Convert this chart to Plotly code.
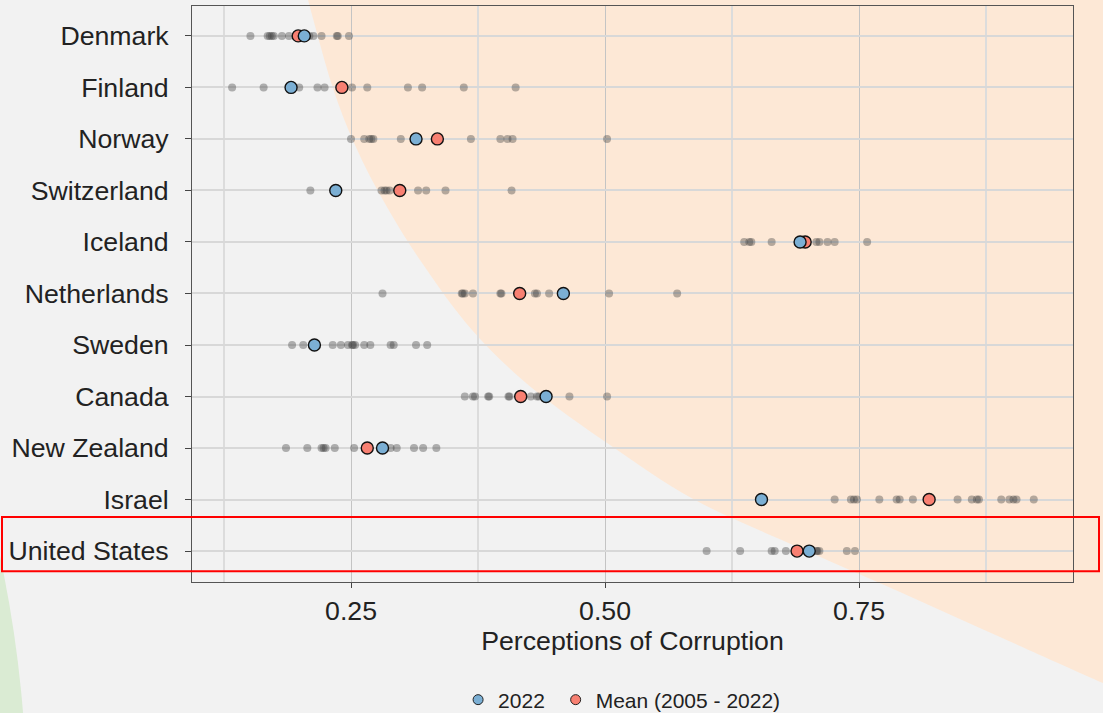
import plotly.graph_objects as go

countries = ["Denmark", "Finland", "Norway", "Switzerland", "Iceland", "Netherlands",
             "Sweden", "Canada", "New Zealand", "Israel", "United States"]

# yearly values 2005-2022 (grey dots)
denmark = [0.151, 0.168, 0.170, 0.172, 0.174, 0.182, 0.189, 0.196, 0.204, 0.209, 0.213, 0.221, 0.236, 0.237, 0.248]
finland = [0.133, 0.164, 0.191, 0.199, 0.217, 0.224, 0.251, 0.266, 0.306, 0.320, 0.361, 0.412]
norway = [0.250, 0.263, 0.268, 0.270, 0.272, 0.299, 0.314, 0.368, 0.397, 0.404, 0.409, 0.502]
switzerland = [0.210, 0.235, 0.280, 0.283, 0.285, 0.288, 0.316, 0.324, 0.343, 0.408]
iceland = [0.637, 0.642, 0.644, 0.664, 0.692, 0.697, 0.708, 0.711, 0.719, 0.726, 0.758]
netherlands = [0.281, 0.359, 0.360, 0.362, 0.370, 0.397, 0.398, 0.431, 0.433, 0.445, 0.459, 0.504, 0.571]
sweden = [0.192, 0.203, 0.214, 0.232, 0.240, 0.247, 0.251, 0.252, 0.254, 0.263, 0.269, 0.289, 0.292, 0.314, 0.325]
canada = [0.362, 0.370, 0.372, 0.385, 0.386, 0.405, 0.406, 0.427, 0.433, 0.435, 0.442, 0.465, 0.502]
new_zealand = [0.186, 0.207, 0.221, 0.223, 0.225, 0.234, 0.253, 0.281, 0.289, 0.295, 0.312, 0.321, 0.334]
israel = [0.654, 0.726, 0.742, 0.745, 0.748, 0.770, 0.787, 0.790, 0.803, 0.847, 0.861, 0.866, 0.868, 0.890, 0.898, 0.902, 0.905, 0.922]
united_states = [0.600, 0.633, 0.664, 0.667, 0.678, 0.701, 0.708, 0.709, 0.711, 0.738, 0.746]

yearly = [denmark, finland, norway, switzerland, iceland, netherlands,
          sweden, canada, new_zealand, israel, united_states]

value_2022 = [0.204, 0.191, 0.314, 0.235, 0.692, 0.459, 0.214, 0.442, 0.281, 0.654, 0.701]
mean_2005_2022 = [0.198, 0.241, 0.335, 0.298, 0.697, 0.416, None, 0.417, 0.266, 0.819, 0.689]

legend_names = ["2022", "Mean (2005 - 2022)"]

x_ticks = [0.25, 0.50, 0.75]
x_tick_labels = ["0.25", "0.50", "0.75"]
x_minor_ticks = [0.125, 0.375, 0.625, 0.875]

BLUE = "#7BAFD4"
RED = "#F88072"
FONT = "Liberation Sans, Arial, sans-serif"
FS = 26.7

W, H = 1103, 713
ML, MR, MT, MB = 192, 30, 6, 131
PW, PH = W - ML - MR, H - MT - MB


def px_to_paper(px, py):
    return (px - ML) / PW, (H - MB - py) / PH


# decorative background boundary (pixel coordinates)
peach_edge = [(300, -30), (308, 0), (332, 85), (355, 145), (383, 200), (420, 260),
              (472, 330), (532, 388), (610, 445), (695, 500), (800, 548), (900, 592),
              (1000, 637), (1103, 683), (1160, 708)]


def smooth_path(pts):
    p = [px_to_paper(*q) for q in pts]
    s = "M %.5f,%.5f" % p[0]
    for i in range(len(p) - 1):
        p0 = p[i - 1] if i > 0 else p[i]
        p1 = p[i]
        p2 = p[i + 1]
        p3 = p[i + 2] if i + 2 < len(p) else p[i + 1]
        c1 = (p1[0] + (p2[0] - p0[0]) / 6, p1[1] + (p2[1] - p0[1]) / 6)
        c2 = (p2[0] - (p3[0] - p1[0]) / 6, p2[1] - (p3[1] - p1[1]) / 6)
        s += " C %.5f,%.5f %.5f,%.5f %.5f,%.5f" % (c1[0], c1[1], c2[0], c2[1], p2[0], p2[1])
    a = px_to_paper(1200, 760)
    b = px_to_paper(1200, -60)
    c = px_to_paper(300, -60)
    s += " L %.5f,%.5f L %.5f,%.5f L %.5f,%.5f Z" % (a[0], a[1], b[0], b[1], c[0], c[1])
    return s


fig = go.Figure()

gx, gy = [], []
for c, vals in zip(countries, yearly):
    gx += vals
    gy += [c] * len(vals)

fig.add_trace(go.Scatter(
    x=gx, y=gy, mode="markers", showlegend=False, hoverinfo="skip",
    marker=dict(size=8, color="rgba(60,60,60,0.38)", line=dict(width=0)),
))
fig.add_trace(go.Scatter(
    x=mean_2005_2022, y=countries, mode="markers", showlegend=False,
    marker=dict(size=12, color=RED, line=dict(width=1.4, color="#111111")),
))
fig.add_trace(go.Scatter(
    x=value_2022, y=countries, mode="markers", showlegend=False,
    marker=dict(size=12, color=BLUE, line=dict(width=1.4, color="#111111")),
))
# legend entries
fig.add_trace(go.Scatter(
    x=[None], y=[None], mode="markers", name=legend_names[0] + "\u00a0",
    marker=dict(size=10, color=BLUE, line=dict(width=1, color="#222222")),
))
fig.add_trace(go.Scatter(
    x=[None], y=[None], mode="markers", name=legend_names[1],
    marker=dict(size=10, color=RED, line=dict(width=1, color="#222222")),
))

x0p, _ = px_to_paper(2, 0)
x1p, _ = px_to_paper(1099, 0)
gc0 = px_to_paper(-2413, 2031)
gc1 = px_to_paper(27, -409)

fig.update_layout(
    width=W, height=H, autosize=False,
    margin=dict(l=ML, r=MR, t=MT, b=MB),
    paper_bgcolor="#F2F2F2",
    plot_bgcolor="rgba(0,0,0,0)",
    font=dict(family=FONT, size=FS, color="#222222"),
    showlegend=True,
    legend=dict(orientation="h", xref="container", yref="container",
                x=0.564, xanchor="center", y=13 / H, yanchor="middle",
                font=dict(size=21, color="#222222"), bgcolor="rgba(0,0,0,0)",
                itemsizing="trace"),
    xaxis=dict(
        range=[0.0935, 0.9606], tickvals=x_ticks, ticktext=x_tick_labels,
        showgrid=True, gridcolor="#C4C4C4", gridwidth=1,
        minor=dict(tickvals=x_minor_ticks, showgrid=True, gridcolor="#DCDCDC", gridwidth=1.5, ticks=""),
        ticks="outside", ticklen=5, tickcolor="#444444", tickwidth=1,
        ticklabelstandoff=0,
        showline=True, mirror=True, linecolor="#555555", linewidth=1,
        zeroline=False,
        title=dict(text="Perceptions of Corruption", font=dict(size=FS, color="#222222"), standoff=5),
        tickfont=dict(size=FS, color="#222222"),
    ),
    yaxis=dict(
        type="category", categoryorder="array", categoryarray=countries,
        range=[10.6, -0.58],
        showgrid=True, gridcolor="#D8D8D8", gridwidth=2,
        ticks="outside", ticklen=6, tickcolor="#444444", tickwidth=1,
        ticklabelstandoff=11,
        showline=True, mirror=True, linecolor="#555555", linewidth=1,
        zeroline=False,
        tickfont=dict(size=FS, color="#222222"),
    ),
    shapes=[
        dict(type="path", xref="paper", yref="paper", path=smooth_path(peach_edge),
             fillcolor="#FDE8D6", line=dict(width=0), layer="below"),
        dict(type="circle", xref="paper", yref="paper",
             x0=gc0[0], y0=gc0[1], x1=gc1[0], y1=gc1[1],
             fillcolor="#DAEBD3", line=dict(width=0), layer="below"),
        dict(type="rect", xref="paper", yref="y", x0=x0p, x1=x1p, y0=9.34, y1=10.39,
             line=dict(color="#FF0000", width=2), fillcolor="rgba(0,0,0,0)", layer="above"),
    ],
)

fig.write_html("out.html", config={"displayModeBar": False})

with open("out.html", "r", encoding="utf-8") as f:
    html = f.read()
html = html.replace("<body>", '<body style="margin:0;padding:0;overflow:hidden;background:#F2F2F2">', 1)
with open("out.html", "w", encoding="utf-8") as f:
    f.write(html)
